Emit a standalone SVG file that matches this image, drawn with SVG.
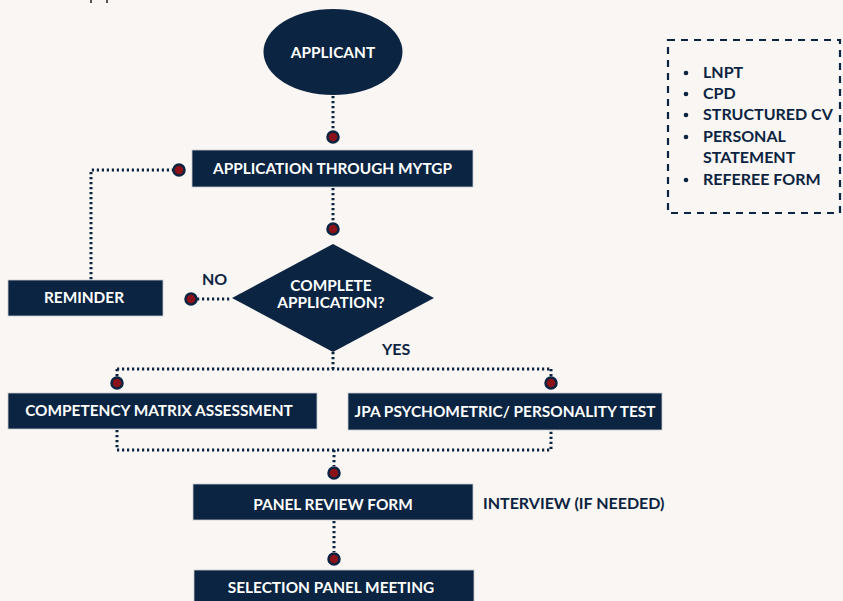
<svg xmlns="http://www.w3.org/2000/svg" width="843" height="601" viewBox="0 0 843 601">
<style>
.bg{fill:#faf6f3}
.box{fill:#0b2441;stroke:#c9ccd2;stroke-width:0.8}
.shape{fill:#0b2441}
.lbl{font-family:Lato,"Liberation Sans",sans-serif;font-weight:bold;font-size:15.4px;fill:#ffffff;text-anchor:middle}
.dark{font-family:Lato,"Liberation Sans",sans-serif;font-weight:bold;font-size:16px;fill:#0b2441}
.dot{stroke:#0b2441;stroke-width:3;fill:none;stroke-dasharray:2.2 2.8}
.pin{fill:#8b1218;stroke:#0b2441;stroke-width:2.5}
</style>
<rect class="bg" x="0" y="0" width="843" height="601"/>
<g id="edge-marks"><rect x="90" y="0" width="2" height="3" fill="#555"/><rect x="106" y="0" width="2" height="3" fill="#555"/></g>
<g id="connectors">
<path class="dot" d="M333 96 V130"/>
<path class="dot" d="M333 188 V222"/>
<path class="dot" d="M179 170 H91 V280"/>
<path class="dot" d="M197 299 H232"/>
<path class="dot" d="M333 352 V369 M117 369 H551 M117 369 V377 M551 369 V377"/>
<path class="dot" d="M117 430 V450 H551 V430 M334 450 V466"/>
<path class="dot" d="M334 521 V552"/>
<circle class="pin" cx="333" cy="137" r="5.5"/>
<circle class="pin" cx="179" cy="170" r="5.5"/>
<circle class="pin" cx="333" cy="229" r="5.5"/>
<circle class="pin" cx="191" cy="299" r="5.5"/>
<circle class="pin" cx="117" cy="383" r="5.5"/>
<circle class="pin" cx="551" cy="383" r="5.5"/>
<circle class="pin" cx="334" cy="473" r="5.5"/>
<circle class="pin" cx="334" cy="559" r="5.5"/>
</g>
<g id="applicant"><ellipse class="shape" cx="333" cy="52" rx="69.5" ry="43"/><text class="lbl" x="333" y="58">APPLICANT</text></g>
<g id="application"><rect class="box" x="192" y="150" width="281" height="37"/><text class="lbl" x="332.5" y="174">APPLICATION THROUGH MYTGP</text></g>
<g id="reminder"><rect class="box" x="8" y="280" width="155" height="36"/><text class="lbl" x="84" y="303">REMINDER</text></g>
<g id="decision"><polygon class="shape" points="333,244 434,298 333,352 232,298"/><text class="lbl" x="331" y="291">COMPLETE</text><text class="lbl" x="331" y="308">APPLICATION?</text></g>
<g id="label-no"><text class="dark" x="202" y="285">NO</text></g>
<g id="label-yes"><text class="dark" x="382" y="355">YES</text></g>
<g id="competency"><rect class="box" x="8" y="393" width="309" height="36"/><text class="lbl" x="159" y="416">COMPETENCY MATRIX ASSESSMENT</text></g>
<g id="jpa"><rect class="box" x="348" y="393" width="314" height="37"/><text class="lbl" x="505" y="417">JPA PSYCHOMETRIC/ PERSONALITY TEST</text></g>
<g id="panel-review"><rect class="box" x="193" y="484" width="280" height="36"/><text class="lbl" x="333" y="510">PANEL REVIEW FORM</text></g>
<g id="interview"><text class="dark" x="483" y="509">INTERVIEW (IF NEEDED)</text></g>
<g id="selection"><rect class="box" x="194" y="570" width="280" height="40"/><text class="lbl" x="331" y="593">SELECTION PANEL MEETING</text></g>
<g id="requirements">
<rect x="668" y="40" width="172" height="173" fill="none" stroke="#0b2441" stroke-width="2.2" stroke-dasharray="7 6"/>
<g fill="#0b2441"><circle cx="686" cy="73" r="2.3"/><circle cx="686" cy="94" r="2.3"/><circle cx="686" cy="115" r="2.3"/><circle cx="686" cy="137" r="2.3"/><circle cx="686" cy="180" r="2.3"/></g>
<text class="dark" x="703" y="78">LNPT</text>
<text class="dark" x="703" y="99">CPD</text>
<text class="dark" x="703" y="120">STRUCTURED CV</text>
<text class="dark" x="703" y="142">PERSONAL</text>
<text class="dark" x="703" y="163">STATEMENT</text>
<text class="dark" x="703" y="185">REFEREE FORM</text>
</g>
</svg>
